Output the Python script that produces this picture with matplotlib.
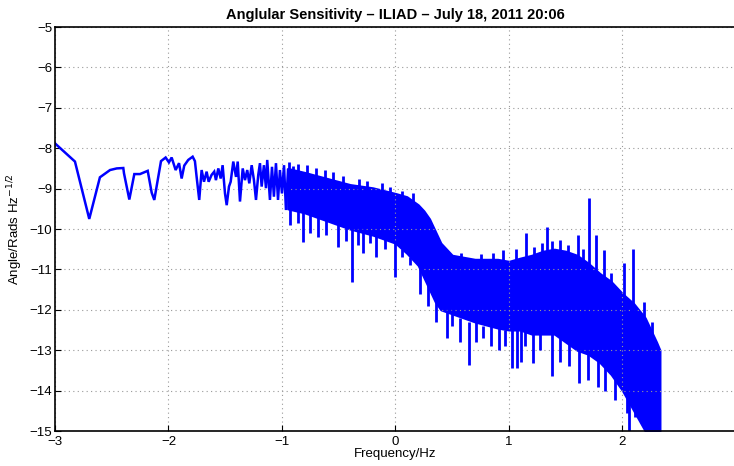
import numpy as np
import matplotlib
matplotlib.use('Agg')
import matplotlib.pyplot as plt

plt.rcParams['font.family'] = ['Liberation Sans', 'DejaVu Sans']

# Low-frequency part of the spectrum, read point by point (log10 Hz, log10 amplitude)
line_f = [-3.0, -2.824, -2.698, -2.604, -2.515, -2.456, -2.398, -2.392, -2.345, -2.301,
          -2.251, -2.183, -2.148, -2.125, -2.066, -2.025, -1.996, -1.972, -1.937, -1.907,
          -1.884, -1.861, -1.826, -1.787, -1.767, -1.752, -1.729, -1.708, -1.687, -1.664,
          -1.646, -1.620, -1.597, -1.582, -1.561, -1.540, -1.523, -1.502, -1.487, -1.467,
          -1.452, -1.429, -1.405, -1.390, -1.370, -1.346, -1.326, -1.306, -1.288, -1.267,
          -1.247, -1.229, -1.209, -1.194, -1.179, -1.159, -1.141, -1.130, -1.106, -1.088,
          -1.071, -1.053, -1.035, -1.018, -1.000, -0.982, -0.965, -0.947]
line_a = [-7.88, -8.33, -9.75, -8.72, -8.54, -8.50, -8.49, -8.62, -9.27, -8.64,
          -8.64, -8.56, -9.10, -9.28, -8.32, -8.23, -8.35, -8.23, -8.54, -8.37,
          -8.75, -8.43, -8.29, -8.21, -8.32, -8.71, -9.28, -8.54, -8.83, -8.58,
          -8.83, -8.66, -8.58, -8.79, -8.50, -8.75, -8.42, -9.12, -9.41, -8.95,
          -8.83, -8.33, -8.71, -8.33, -9.32, -8.50, -8.79, -8.54, -8.87, -8.42,
          -8.79, -9.28, -8.66, -8.37, -8.95, -8.42, -8.99, -8.29, -9.28, -8.46,
          -9.20, -8.37, -9.28, -8.54, -9.12, -8.42, -9.53, -8.54]

# Dense part: upper edge and lower edge of the solid band
env_f = [-0.95, -0.8, -0.6, -0.4, -0.2, 0.0, 0.1, 0.2, 0.25, 0.3, 0.35, 0.4, 0.5,
         0.7, 0.9, 1.0, 1.1, 1.2, 1.3, 1.4, 1.5, 1.6, 1.7, 1.8, 1.9, 2.0, 2.1,
         2.2, 2.3, 2.33]
env_hi = [-8.5, -8.6, -8.75, -8.9, -8.98, -9.12, -9.2, -9.4, -9.55, -9.75, -10.05,
          -10.35, -10.65, -10.75, -10.75, -10.8, -10.72, -10.65, -10.55, -10.5, -10.55,
          -10.65, -10.85, -11.1, -11.3, -11.6, -11.85, -12.2, -12.8, -13.0]
env_lo = [-9.5, -9.6, -9.8, -10.0, -10.15, -10.35, -10.6, -10.9, -11.2, -11.5, -11.8,
          -12.0, -12.1, -12.3, -12.45, -12.5, -12.5, -12.6, -12.6, -12.6, -12.8,
          -13.0, -13.1, -13.3, -13.6, -14.0, -14.5, -15.0, -15.0, -15.0]

# Downward spikes below the band
dip_f = [-0.93, -0.859, -0.815, -0.753, -0.683, -0.612, -0.507, -0.436, -0.383, -0.330,
         -0.286, -0.225, -0.172, -0.093, -0.004, 0.057, 0.128, 0.216, 0.286, 0.357,
         0.454, 0.498, 0.568, 0.648, 0.709, 0.771, 0.841, 0.912, 0.965, 1.023,
         1.070, 1.106, 1.141, 1.209, 1.273, 1.376, 1.45, 1.53, 1.62, 1.696,
         1.78, 1.85, 1.934, 2.037, 2.057, 2.11]
dip_top = [-9.4, -9.5, -9.5, -9.5, -9.6, -9.7, -9.8, -9.9, -9.9, -10.0,
           -10.0, -10.1, -10.1, -10.2, -10.3, -10.5, -10.7, -10.8, -11.3, -11.6,
           -12.0, -12.0, -12.2, -12.3, -12.3, -12.4, -12.4, -12.4, -12.5, -12.5,
           -12.5, -12.5, -12.5, -12.6, -12.6, -12.6, -12.7, -12.8, -12.9, -13.0,
           -13.2, -13.3, -13.5, -13.9, -14.0, -14.4]
dip_bot = [-9.9, -9.85, -10.33, -10.1, -10.2, -10.15, -10.45, -10.3, -11.3, -10.4,
           -10.6, -10.35, -10.7, -10.5, -11.2, -10.7, -10.9, -11.6, -11.9, -12.3,
           -12.7, -12.4, -12.8, -13.37, -12.8, -12.7, -12.9, -13.0, -12.9, -13.44,
           -13.45, -13.3, -12.9, -13.32, -13.0, -13.65, -13.3, -13.4, -13.82, -13.74,
           -13.9, -14.0, -14.23, -14.55, -15.0, -14.65]

# Upward spikes above the band
peak_f = [-0.94, -0.90, -0.86, -0.78, -0.70, -0.62, -0.55, -0.46, -0.32, -0.25,
          -0.12, -0.05, 0.06, 0.15, 0.58, 0.75, 0.86, 0.944, 1.06, 1.147,
          1.22, 1.29, 1.332, 1.38, 1.449, 1.52, 1.605, 1.65, 1.708, 1.766,
          1.840, 1.90, 2.013, 2.09, 2.19, 2.26]
peak_a = [-8.35, -8.45, -8.4, -8.42, -8.5, -8.55, -8.6, -8.7, -8.75, -8.8,
          -8.85, -8.95, -9.05, -9.1, -10.6, -10.62, -10.6, -10.52, -10.5, -10.1,
          -10.45, -10.35, -9.94, -10.3, -10.27, -10.4, -10.15, -10.5, -9.23, -10.15,
          -10.52, -11.1, -10.85, -10.5, -11.8, -12.3]
peak_base = [-8.8, -8.9, -8.9, -9.0, -9.0, -9.1, -9.1, -9.2, -9.2, -9.3,
             -9.3, -9.4, -9.4, -9.5, -11.0, -11.0, -11.0, -11.0, -11.0, -11.0,
             -11.0, -10.9, -10.8, -10.8, -10.8, -10.9, -11.0, -11.1, -11.2, -11.3,
             -11.5, -11.6, -12.0, -12.2, -12.6, -13.0]

title = 'Anglular Sensitivity \u2013 ILIAD \u2013 July 18, 2011 20:06'
x_ticks = [-3, -2, -1, 0, 1, 2]
y_ticks = list(range(-15, -4))

blue = '#0000ff'

fig = plt.figure(figsize=(7.34, 4.66), dpi=100)
ax = fig.add_axes([0.0749, 0.0751, 0.9278, 0.8669])

ax.plot(line_f, line_a, color=blue, lw=1.8, solid_joinstyle='miter')
ax.fill_between(env_f, env_hi, env_lo, color=blue, lw=1.5, edgecolor=blue)
ax.vlines(dip_f, dip_bot, dip_top, color=blue, lw=2.0)
ax.vlines(peak_f, peak_base, peak_a, color=blue, lw=2.0)

ax.set_xlim(-3, 3)
ax.set_ylim(-15, -5)
ax.set_xticks(x_ticks)
ax.set_yticks(y_ticks)
ax.grid(True, linestyle=(0, (1, 3)), color='#999999', lw=0.8)
ax.tick_params(direction='in', labelsize=9.5, length=4, width=0.8, pad=2)
ax.tick_params(axis='x', pad=3.5)
for s in ax.spines.values():
    s.set_linewidth(1.2)

ax.set_title(title, fontsize=10.5, fontweight='bold', pad=6)
ax.set_xlabel('Frequency/Hz', fontsize=9.5, labelpad=0)
ax.set_ylabel('Angle/Rads Hz$^{-1/2}$', fontsize=9.5, labelpad=3)

fig.savefig('out.png', dpi=100)
